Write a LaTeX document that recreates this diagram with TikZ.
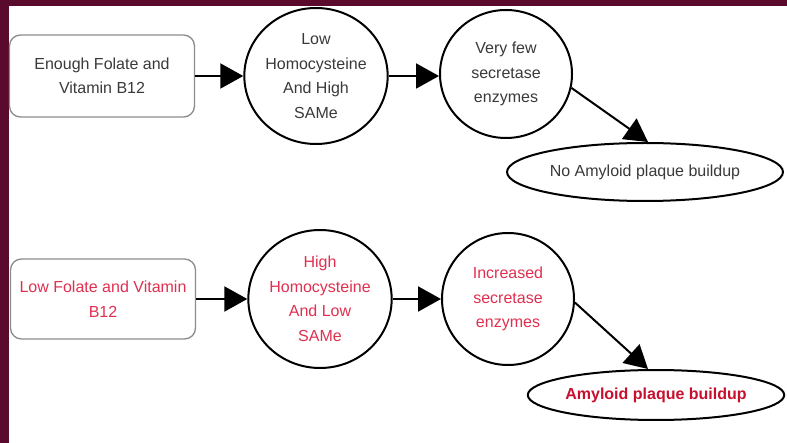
\documentclass[tikz,border=0pt]{standalone}
\usepackage{fontspec}
\setmainfont{Liberation Sans}
\usetikzlibrary{arrows.meta,shapes.geometric}
\definecolor{maroon}{HTML}{5A0A2C}
\definecolor{txtgray}{HTML}{3A3A3A}
\definecolor{txtred}{HTML}{E03050}
\definecolor{darkred}{HTML}{C8102E}
\tikzset{
  box/.style={draw=black!45, line width=1.3pt, rounded corners=11pt, fill=white, align=center,
    minimum width=185pt, minimum height=82pt, inner sep=0pt, font=\fontsize{16}{24.5}\selectfont},
  circ/.style={ellipse, draw=black, line width=2pt, align=center, inner sep=0pt,
    font=\fontsize{16}{24.5}\selectfont},
  oval/.style={ellipse, draw=black, line width=2pt, align=center, inner sep=0pt,
    font=\fontsize{16}{20}\selectfont},
  conn/.style={line width=2pt, -{Triangle[length=23pt,width=25pt]}},
}
\begin{document}
\begin{tikzpicture}[x=1pt,y=-1pt]
\fill[maroon] (0,0) rectangle (787,443);
\fill[white] (9,6) rectangle (787,443);
\useasboundingbox (0,0) rectangle (787,443);
% top row
\node[box, text=txtgray] (b1) at (102,76) {Enough Folate and\\Vitamin B12};
\node[circ, text=txtgray, minimum width=128pt, minimum height=136pt] (c1) at (316,76) {Low\\Homocysteine\\And High\\SAMe};
\node[circ, text=txtgray, minimum width=132pt, minimum height=128pt] (c2) at (506,74) {Very few\\secretase\\enzymes};
\node[oval, text=txtgray, minimum width=276pt, minimum height=58pt] (e3) at (645,172) {No Amyloid plaque buildup};
\draw[conn] (b1.east) -- (c1.west);
\draw[conn] (c1.east) -- (c2.west |- c1.east);
\draw[conn] (c2.-12) -- ([xshift=3pt]e3.north);
% bottom row
\node[box, text=txtred, minimum height=80pt] (b4) at (103,299) {Low Folate and Vitamin\\B12};
\node[circ, text=txtred, minimum width=134pt, minimum height=138pt] (c5) at (320,299) {High\\Homocysteine\\And Low\\SAMe};
\node[circ, text=txtred, minimum width=132pt, minimum height=132pt] (c6) at (508,299) {Increased\\secretase\\enzymes};
\node[oval, text=darkred, font=\fontsize{16}{20}\selectfont\bfseries, minimum width=256pt, minimum height=50pt] (e7) at (656,395) {Amyloid plaque buildup};
\draw[conn] (b4.east) -- (c5.west);
\draw[conn] (c5.east) -- (c6.west);
\draw[conn] (c6.-3) -- ([xshift=-8pt]e7.north);
\end{tikzpicture}
\end{document}
